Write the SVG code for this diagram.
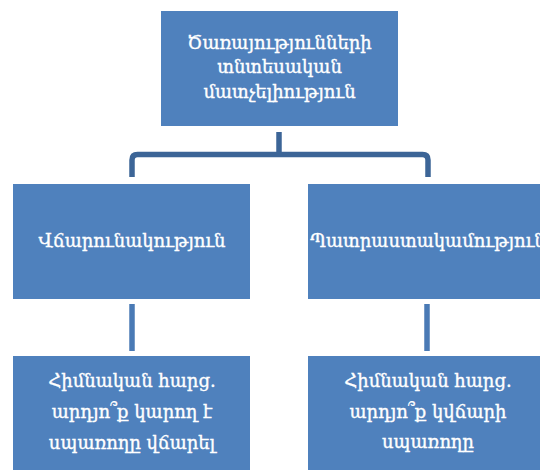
<svg xmlns="http://www.w3.org/2000/svg" width="540" height="470" viewBox="0 0 540 470">
<style>
.box{fill:#4F81BD;stroke:#ffffff;stroke-width:1}
.t{font-family:"DejaVu Serif","Noto Sans",serif;font-size:18px;fill:#ffffff;stroke:#ffffff;stroke-width:0.35;text-anchor:middle}
.c1{fill:none;stroke:#3C6597;stroke-width:5.5;stroke-linejoin:round}
.c2{fill:none;stroke:#4A7AB5;stroke-width:5.5}
</style>
<rect width="540" height="470" fill="#ffffff"/>
<g id="connectors">
<path class="c1" d="M279,132 V154.5"/>
<path class="c1" d="M132,177 V160 Q132,154.5 137.5,154.5 H422.5 Q428,154.5 428,160 V177"/>
<path class="c2" d="M132,304 V351"/>
<path class="c2" d="M427,304 V351"/>
</g>
<g id="top">
<rect class="box" x="160.5" y="10.5" width="238" height="116"/>
<text class="t" x="279.5" y="49">Ծառայությունների</text>
<text class="t" x="279.5" y="73">տնտեսական</text>
<text class="t" x="279.5" y="98">մատչելիություն</text>
</g>
<g id="mid-left">
<rect class="box" x="12.5" y="183.5" width="238" height="116"/>
<text class="t" x="132" y="247">Վճարունակություն</text>
</g>
<g id="mid-right">
<rect class="box" x="307.5" y="183.5" width="238" height="116"/>
<text class="t" x="428" y="247">Պատրաստակամություն</text>
</g>
<g id="bottom-left">
<rect class="box" x="12.5" y="355.5" width="238" height="120"/>
<text class="t" x="132" y="387">Հիմնական հարց.</text>
<text class="t" x="132" y="418">արդյո՞ք կարող է</text>
<text class="t" x="132" y="449">սպառողը վճարել</text>
</g>
<g id="bottom-right">
<rect class="box" x="307.5" y="355.5" width="238" height="120"/>
<text class="t" x="428" y="387">Հիմնական հարց.</text>
<text class="t" x="428" y="418">արդյո՞ք կվճարի</text>
<text class="t" x="428" y="448">սպառողը</text>
</g>
</svg>
